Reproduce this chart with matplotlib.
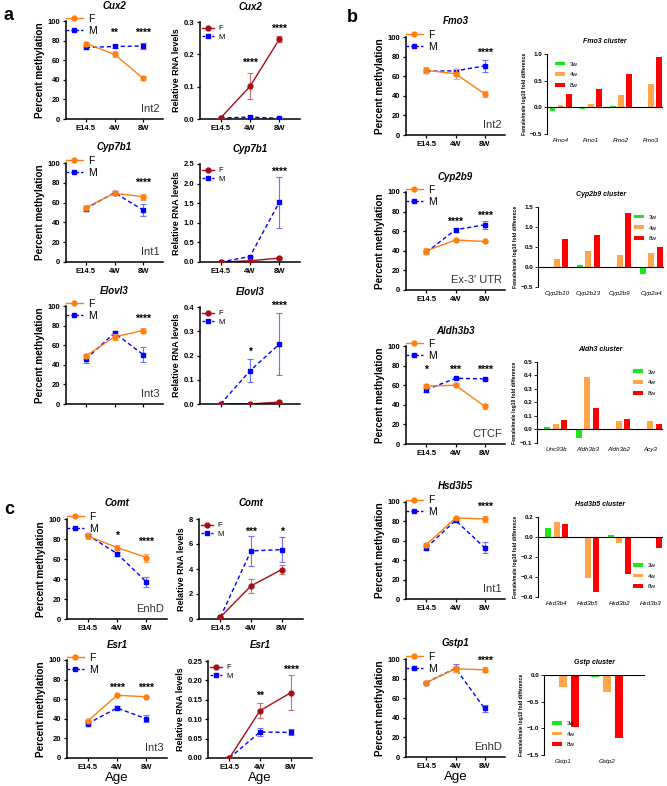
import numpy as np
import matplotlib
matplotlib.use("Agg")
import matplotlib.pyplot as plt

plt.rcParams['font.family'] = ['Liberation Sans', 'DejaVu Sans']

W, H = 667, 786
AGES = ["E14.5", "4W", "8W"]

# ---- methylation (%) : mean, error for F and M
cux2_mF = [77, 66, 41.5];   cux2_mF_e = [2, 3, 2]
cux2_mM = [73, 74, 74.5];   cux2_mM_e = [2, 2, 3.5]
cyp7b1_mF = [55, 69.5, 66]; cyp7b1_mF_e = [2.5, 2, 3]
cyp7b1_mM = [54, 70, 52.5]; cyp7b1_mM_e = [2, 2, 6]
elovl3_mF = [49, 68.5, 75]; elovl3_mF_e = [2, 3, 3]
elovl3_mM = [46, 72.5, 50.5]; elovl3_mM_e = [4, 2, 7.5]
comt_mF = [83, 71.5, 61.5]; comt_mF_e = [3, 2.5, 4]
comt_mM = [84, 65.5, 37];   comt_mM_e = [1, 2, 5]
esr1_mF = [37.5, 64, 62.5]; esr1_mF_e = [1, 1, 1]
esr1_mM = [35, 51, 40];     esr1_mM_e = [1, 2, 3.5]
fmo3_mF = [66, 62.5, 42];   fmo3_mF_e = [3, 5, 3]
fmo3_mM = [65, 65.5, 70.5]; fmo3_mM_e = [2, 2, 6]
cyp2b9_mF = [40, 51, 49.5]; cyp2b9_mF_e = [3, 1, 1]
cyp2b9_mM = [38.5, 61.5, 66.5]; cyp2b9_mM_e = [2, 2, 4]
aldh3b3_mF = [59, 60, 38.5]; aldh3b3_mF_e = [2, 2, 2.5]
aldh3b3_mM = [55.5, 67, 66.5]; aldh3b3_mM_e = [2, 1, 1]
hsd3b5_mF = [56, 83.5, 82.5]; hsd3b5_mF_e = [2, 1, 3]
hsd3b5_mM = [53, 81, 53];   hsd3b5_mM_e = [2, 2, 6]
gstp1_mF = [76, 90, 89];    gstp1_mF_e = [1.5, 3, 2.5]
gstp1_mM = [76, 90.5, 49.5]; gstp1_mM_e = [1, 4, 4]

# ---- relative RNA levels
cux2_rF = [0.003, 0.101, 0.247]; cux2_rF_e = [0, 0.04, 0.01]
cux2_rM = [0.003, 0.006, 0.002]; cux2_rM_e = [0, 0.002, 0.001]
cyp7b1_rF = [0, 0.03, 0.1];      cyp7b1_rF_e = [0, 0.01, 0.02]
cyp7b1_rM = [0, 0.14, 1.53];     cyp7b1_rM_e = [0, 0.02, 0.65]
elovl3_rF = [0, 0.0, 0.008];     elovl3_rF_e = [0, 0.0, 0.004]
elovl3_rM = [0, 0.137, 0.247];   elovl3_rM_e = [0, 0.047, 0.127]
comt_rF = [0.15, 2.65, 3.95];    comt_rF_e = [0, 0.58, 0.35]
comt_rM = [0.15, 5.45, 5.55];    comt_rM_e = [0, 1.2, 1.0]
esr1_rF = [0, 0.122, 0.168];     esr1_rF_e = [0, 0.02, 0.045]
esr1_rM = [0, 0.067, 0.066];     esr1_rM_e = [0, 0.011, 0.008]

# ---- cluster log10 fold differences (3w, 4w, 8w)
fmo_genes = ["Fmo4", "Fmo1", "Fmo2", "Fmo3"]
fmo_3w = [-0.06, -0.03, 0.02, -0.02]
fmo_4w = [0.05, 0.07, 0.23, 0.44]
fmo_8w = [0.25, 0.34, 0.62, 0.95]
cyp_genes = ["Cyp2b10", "Cyp2b13", "Cyp2b9", "Cyp2a4"]
cyp_3w = [0.005, 0.06, 0.0, -0.17]
cyp_4w = [0.21, 0.39, 0.31, 0.34]
cyp_8w = [0.70, 0.81, 1.36, 0.51]
aldh_genes = ["Unc93b", "Aldh3b3", "Aldh3b2", "Acy3"]
aldh_3w = [0.02, -0.06, 0.0, 0.0]
aldh_4w = [0.04, 0.39, 0.06, 0.06]
aldh_8w = [0.07, 0.16, 0.08, 0.04]
hsd_genes = ["Hsd3b4", "Hsd3b5", "Hsd3b2", "Hsd3b3"]
hsd_3w = [0.09, -0.01, 0.02, 0.0]
hsd_4w = [0.15, -0.41, -0.06, -0.01]
hsd_8w = [0.13, -0.55, -0.37, -0.11]
gst_genes = ["Gstp1", "Gstp2"]
gst_3w = [-0.01, -0.03]
gst_4w = [-0.23, -0.31]
gst_8w = [-0.97, -1.19]

ORANGE, DARKRED, BLUE = "#ff7f0e", "#a50f15", "#0000ff"


def px_axes(fig, x0, y0, x1, y1):
    return fig.add_axes([x0 / W, 1 - y1 / H, (x1 - x0) / W, (y1 - y0) / H])


def line_panel(ax, F, Fe, M, Me, ylim, yticks, title, stars, region=None,
               rna=False, xlabels=True, age=False):
    x = np.arange(3)
    fcol = DARKRED if rna else ORANGE
    ecF = "#c97070" if rna else "#f5a870"
    ax.errorbar(x, M, yerr=Me, fmt="s", color=BLUE, ecolor="#7070ff", ms=3.5,
                capsize=2, elinewidth=0.8, capthick=0.8, zorder=3)
    ax.plot(x, M, color=BLUE, lw=1, ls=(0, (3, 2)), zorder=2)
    ax.errorbar(x, F, yerr=Fe, fmt="o", color=fcol, ecolor=ecF, ms=3.5,
                capsize=2, elinewidth=0.8, capthick=0.8, zorder=4)
    ax.plot(x, F, color=fcol, lw=1, zorder=2)
    hF, = ax.plot([], [], "-o", color=fcol, ms=3.5, lw=1)
    hM, = ax.plot([], [], "s", ls=(0, (2, 1.5)), color=BLUE, ms=3.5, lw=1)
    ax.legend([hF, hM], ["F", "M"], loc="upper left",
              bbox_to_anchor=(0.0, 1.07) if not rna else (0.02, 0.97),
              frameon=False, fontsize=7.5 if not rna else 5.5, handlelength=1.6,
              handletextpad=0.5, labelspacing=0.15, borderpad=0, borderaxespad=0)
    ax.set_xlim(-0.7, 2.7)
    ax.set_ylim(*ylim)
    ax.set_yticks(yticks)
    ax.set_xticks(x)
    ax.set_xticklabels(AGES if xlabels else [""] * 3)
    for s in ("top", "right"):
        ax.spines[s].set_visible(False)
    for s in ("left", "bottom"):
        ax.spines[s].set_linewidth(1.1)
    ax.tick_params(labelsize=5.5, length=2.5, width=0.9, pad=1.5)
    for lab in ax.get_xticklabels() + ax.get_yticklabels():
        lab.set_fontweight("bold")
    ax.set_title(title, fontsize=7, fontweight="bold", fontstyle="italic", pad=9)
    ax.set_ylabel("Relative RNA levels" if rna else "Percent methylation",
                  fontsize=6.5 if rna else 7.2, fontweight="bold", labelpad=2)
    for xi, yv, txt in stars:
        ax.text(xi, yv, txt, ha="center", va="center", fontsize=7.5, fontweight="bold")
    if region:
        ax.text(0.97, 0.05, region, transform=ax.transAxes, ha="right",
                va="bottom", fontsize=8, color="#333333")
    if age:
        ax.set_xlabel("Age", fontsize=9.5, labelpad=1)


def bar_panel(ax, genes, v3, v4, v8, ylim, yticks, title, legloc, xlim, wd=0.19,
              off=0.27):
    x = np.arange(len(genes))
    for o, vals, col, lab in [(-off, v3, "#1ee61e", "3w"), (0, v4, "#ffa64d", "4w"),
                              (off, v8, "#ff0000", "8w")]:
        ax.bar(x + o, vals, width=wd, color=col, label=lab, zorder=2)
    ax.axhline(0, color="k", lw=0.8, zorder=3)
    ax.set_xlim(*xlim)
    ax.set_ylim(*ylim)
    ax.set_yticks(yticks)
    ax.set_xticks(x)
    ax.set_xticklabels(genes, fontstyle="italic")
    for s in ("top", "right", "bottom"):
        ax.spines[s].set_visible(False)
    ax.spines["left"].set_linewidth(0.8)
    ax.tick_params(labelsize=4.5, length=2, width=0.6, pad=1.5)
    ax.tick_params(axis="x", length=0, pad=3)
    for lab in ax.get_yticklabels():
        lab.set_fontweight("bold")
    ax.set_title(title, fontsize=5, fontweight="bold", fontstyle="italic", pad=8)
    ax.set_ylabel("Female/male log10 fold difference", fontsize=3.6,
                  fontweight="bold", labelpad=2)
    ax.legend(loc=legloc, frameon=False, fontsize=4.5, handlelength=1.6,
              handleheight=0.6, labelspacing=0.9, borderaxespad=0.8)


fig = plt.figure(figsize=(W / 100, H / 100), dpi=100)

# ---------------- panel a
ax = px_axes(fig, 66, 21, 163, 119)
line_panel(ax, cux2_mF, cux2_mF_e, cux2_mM, cux2_mM_e, (0, 100), range(0, 101, 20),
           "Cux2", [(1, 88, "**"), (2, 88, "****")], "Int2")
ax = px_axes(fig, 200, 22, 300, 119)
line_panel(ax, cux2_rF, cux2_rF_e, cux2_rM, cux2_rM_e, (0, 0.3), [0, 0.1, 0.2, 0.3],
           "Cux2", [(1, 0.175, "****"), (2, 0.28, "****")], rna=True)
ax = px_axes(fig, 66, 163, 163, 262)
line_panel(ax, cyp7b1_mF, cyp7b1_mF_e, cyp7b1_mM, cyp7b1_mM_e, (0, 100),
           range(0, 101, 20), "Cyp7b1", [(2, 80, "****")], "Int1")
ax = px_axes(fig, 200, 164, 300, 262)
line_panel(ax, cyp7b1_rF, cyp7b1_rF_e, cyp7b1_rM, cyp7b1_rM_e, (0, 2.5),
           np.arange(0, 2.51, 0.5), "Cyp7b1", [(2, 2.3, "****")], rna=True)
ax = px_axes(fig, 66, 306, 163, 404)
line_panel(ax, elovl3_mF, elovl3_mF_e, elovl3_mM, elovl3_mM_e, (0, 100),
           range(0, 101, 20), "Elovl3", [(2, 87, "****")], "Int3", xlabels=False)
ax = px_axes(fig, 200, 307, 300, 404)
line_panel(ax, elovl3_rF, elovl3_rF_e, elovl3_rM, elovl3_rM_e, (0, 0.4),
           [0, 0.1, 0.2, 0.3, 0.4], "Elovl3", [(1, 0.215, "*"), (2, 0.405, "****")],
           rna=True, xlabels=False)

# ---------------- panel c
ax = px_axes(fig, 67, 519, 167, 619)
line_panel(ax, comt_mF, comt_mF_e, comt_mM, comt_mM_e, (0, 100), range(0, 101, 20),
           "Comt", [(1, 83, "*"), (2, 77, "****")], "EnhD")
ax = px_axes(fig, 199, 519, 303, 619)
line_panel(ax, comt_rF, comt_rF_e, comt_rM, comt_rM_e, (0, 8), range(0, 9, 2),
           "Comt", [(1, 7.0, "***"), (2, 7.0, "*")], rna=True)
ax = px_axes(fig, 67, 660, 167, 758)
line_panel(ax, esr1_mF, esr1_mF_e, esr1_mM, esr1_mM_e, (0, 100), range(0, 101, 20),
           "Esr1", [(1, 72, "****"), (2, 72, "****")], "Int3", age=True)
ax = px_axes(fig, 208, 661, 312, 758)
line_panel(ax, esr1_rF, esr1_rF_e, esr1_rM, esr1_rM_e, (0, 0.25),
           np.arange(0, 0.251, 0.05), "Esr1", [(1, 0.16, "**"), (2, 0.228, "****")],
           rna=True, age=True)

# ---------------- panel b
ax = px_axes(fig, 406, 37, 505, 135)
line_panel(ax, fmo3_mF, fmo3_mF_e, fmo3_mM, fmo3_mM_e, (0, 100), range(0, 101, 20),
           "Fmo3", [(2, 84, "****")], "Int2")
ax = px_axes(fig, 406, 192, 505, 290)
line_panel(ax, cyp2b9_mF, cyp2b9_mF_e, cyp2b9_mM, cyp2b9_mM_e, (0, 100),
           range(0, 101, 20), "Cyp2b9", [(1, 70, "****"), (2, 76, "****")],
           "Ex-3\u2032 UTR")
ax = px_axes(fig, 406, 346, 505, 444)
line_panel(ax, aldh3b3_mF, aldh3b3_mF_e, aldh3b3_mM, aldh3b3_mM_e, (0, 100),
           range(0, 101, 20), "Aldh3b3",
           [(0, 76, "*"), (1, 76, "***"), (2, 76, "****")], "CTCF")
ax = px_axes(fig, 406, 502, 505, 599)
line_panel(ax, hsd3b5_mF, hsd3b5_mF_e, hsd3b5_mM, hsd3b5_mM_e, (0, 100),
           range(0, 101, 20), "Hsd3b5", [(2, 95, "****")], "Int1")
ax = px_axes(fig, 406, 659, 505, 757)
line_panel(ax, gstp1_mF, gstp1_mF_e, gstp1_mM, gstp1_mM_e, (0, 100),
           range(0, 101, 20), "Gstp1", [(2, 98, "****")], "EnhD", age=True)

ax = px_axes(fig, 547, 54, 663, 134)
bar_panel(ax, fmo_genes, fmo_3w, fmo_4w, fmo_8w, (-0.5, 1.0), [-0.5, 0, 0.5, 1.0],
          "Fmo3 cluster", "upper left", (-0.45, 3.4))
ax = px_axes(fig, 538, 207, 664, 287)
bar_panel(ax, cyp_genes, cyp_3w, cyp_4w, cyp_8w, (-0.5, 1.5),
          [-0.5, 0, 0.5, 1.0, 1.5], "Cyp2b9 cluster", "upper right", (-0.6, 3.4))
ax = px_axes(fig, 537, 362, 663, 443)
bar_panel(ax, aldh_genes, aldh_3w, aldh_4w, aldh_8w, (-0.1, 0.5),
          np.arange(-0.1, 0.51, 0.1), "Aldh3 cluster", "upper right", (-0.6, 3.4))
ax = px_axes(fig, 538, 517, 663, 597)
bar_panel(ax, hsd_genes, hsd_3w, hsd_4w, hsd_8w, (-0.6, 0.2),
          np.arange(-0.6, 0.21, 0.2), "Hsd3b5 cluster", "lower right", (-0.6, 3.4))
ax = px_axes(fig, 544, 675, 645, 755)
bar_panel(ax, gst_genes, gst_3w, gst_4w, gst_8w, (-1.5, 0.0), [-1.5, -1.0, -0.5, 0.0],
          "Gstp cluster", "lower left", (-0.43, 1.86))

for txt, xp, yp in [("a", 4, 15), ("b", 347, 17), ("c", 4, 510)]:
    fig.text(xp / W, 1 - yp / H, txt, fontsize=13, fontweight="bold",
             ha="left", va="center")

fig.savefig("out.png", dpi=100)
